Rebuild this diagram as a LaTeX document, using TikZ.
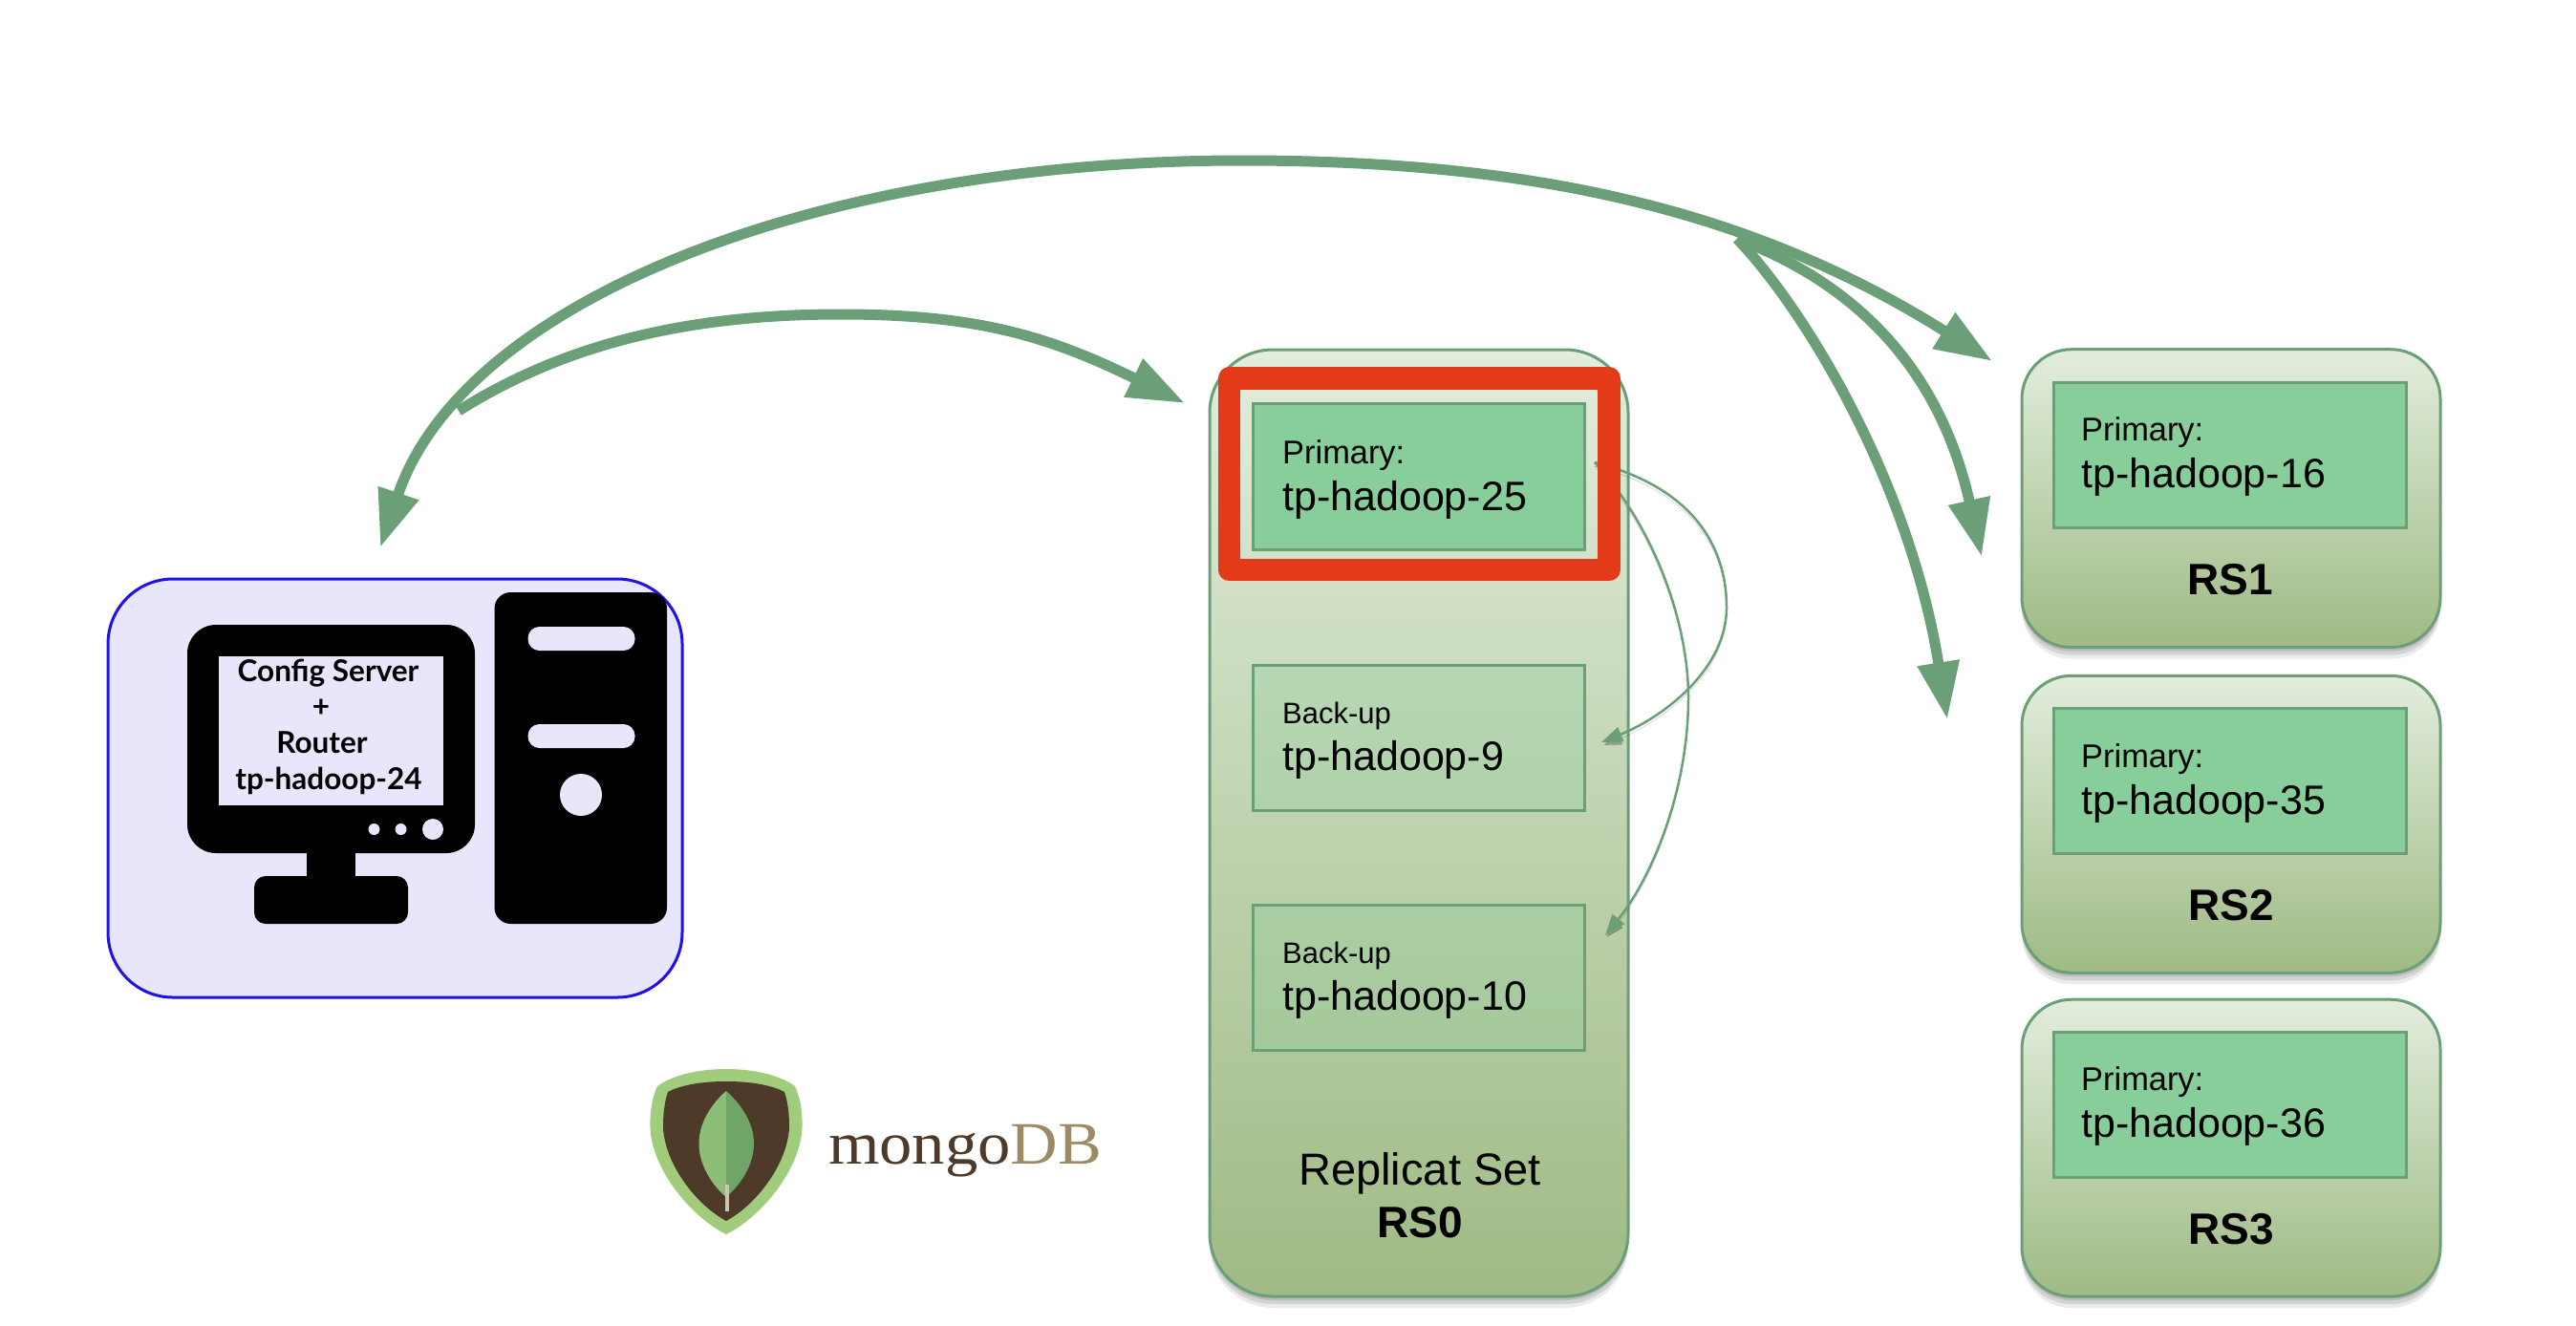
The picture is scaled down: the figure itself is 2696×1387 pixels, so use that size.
\documentclass[tikz,border=0pt]{standalone}
\usepackage{fontspec}
\setsansfont{Liberation Sans}
\newfontfamily\cfgfont{Lato}
\newfontfamily\logofont{Liberation Serif}
\usepackage{xcolor}
\usetikzlibrary{calc,arrows.meta,shadows}
\definecolor{edgegreen}{HTML}{6A9F78}
\definecolor{rstop}{HTML}{E2EDDC}
\definecolor{rsmid}{HTML}{B9D0A8}
\definecolor{rsbottom}{HTML}{9FBA84}
\definecolor{prifill}{HTML}{88CE9A}
\definecolor{redframe}{HTML}{E33B1A}
\definecolor{hostfill}{HTML}{E8E6FB}
\definecolor{hostedge}{HTML}{1F10EE}
\definecolor{shieldgreen}{HTML}{A0CC7C}
\definecolor{mongobrown}{HTML}{4E3A28}
\definecolor{mongotan}{HTML}{9C8A63}
\definecolor{leaflight}{HTML}{8DBE78}
\definecolor{leafdark}{HTML}{6FA566}
\definecolor{stemgrey}{HTML}{CBC4B0}
\tikzset{
  softshade/.style={
    drop shadow={shadow xshift=0pt,shadow yshift=-4pt,opacity=.10,fill=black},
    drop shadow={shadow xshift=0pt,shadow yshift=-8pt,opacity=.10,fill=black},
    drop shadow={shadow xshift=0pt,shadow yshift=-12pt,opacity=.08,fill=black}},
  softline/.style={preaction={draw=black,opacity=.25,transform canvas={yshift=-4pt}}},
  rsbox/.style={draw=edgegreen, line width=3pt, top color=rstop, middle color=rsmid, bottom color=rsbottom,
    minimum width=438pt, inner sep=0pt, softshade},
  pribox/.style={draw=edgegreen, line width=3pt, fill=prifill, inner sep=0pt},
  bakbox/.style={draw=edgegreen, line width=3pt, fill=prifill, fill opacity=.3, inner sep=0pt},
  lab/.style={inner sep=0pt, anchor=base west, font=\sffamily\fontsize{34.4}{38}\selectfont},
  labup/.style={inner sep=0pt, anchor=base west, font=\sffamily\fontsize{31}{36}\selectfont},
  labhost/.style={inner sep=0pt, anchor=base west, font=\sffamily\fontsize{43}{48}\selectfont},
  labrs/.style={inner sep=0pt, anchor=base, font=\sffamily\bfseries\fontsize{46}{50}\selectfont},
  labcfg/.style={inner sep=0pt, anchor=base, font=\cfgfont\bfseries\fontsize{31.5}{34}\selectfont},
  bigarrow/.style={draw=edgegreen, line width=11pt, softline},
  smallarrow/.style={draw=edgegreen, line width=2.5pt, softline,
    -{Triangle[length=22pt,width=16pt]}},
  bighead/.style={-{Triangle[length=60pt,width=42pt]}}
}
\begin{document}
\begin{tikzpicture}[x=1pt,y=-1pt]
  \useasboundingbox[fill=white] (0,0) rectangle (2696,1387);

  % host with monitor and tower
  \node[draw=hostedge, line width=3pt, fill=hostfill, rounded corners=68pt, minimum width=601pt, minimum height=438pt, inner sep=0pt] (hostbox) at (413.5,825) {};
  \fill[black, rounded corners=30pt] (196,654) rectangle (497,893);
  \fill[black] (321,885) rectangle (372,925);
  \fill[black, rounded corners=12pt] (266,917) rectangle (427,967);
  \fill[black, rounded corners=17pt] (517.5,620) rectangle (698,967);
  \fill[hostfill] (229,687) rectangle (463.5,843);
  \fill[hostfill, rounded corners=12pt] (552.5,656) rectangle (664.5,681);
  \fill[hostfill, rounded corners=12pt] (552.5,758) rectangle (664.5,783);
  \fill[hostfill] (608,832) circle (22);
  \fill[hostfill] (391.5,868) circle (6);
  \fill[hostfill] (419.5,868) circle (6);
  \fill[hostfill] (453,868) circle (11);
  \node[labcfg] (cfgname) at (343.5,713) {Config Server};
  \node[labcfg] (cfgplus) at (336,750) {+};
  \node[labcfg] (cfgrouter) at (337,788) {Router};
  \node[labcfg] (cfghost) at (344,826) {tp-hadoop-24};

  % replica set RS0
  \node[rsbox, rounded corners=66pt, minimum height=991pt] (rszero) at (1485,861.5) {};
  \node[pribox, minimum width=347pt, minimum height=153pt] (prizero) at (1485,499) {};
  \node[bakbox, minimum width=347pt, minimum height=152pt] (bakone) at (1485,772) {};
  \node[bakbox, minimum width=347pt, minimum height=152pt] (baktwo) at (1485,1023) {};
  \node[lab] (prizerotxt) at (1342,485) {Primary:};
  \node[labhost] (prizerohost) at (1342,534) {tp-hadoop-25};
  \node[labup] (bakonetxt) at (1342,757) {Back-up};
  \node[labhost] (bakonehost) at (1342,806) {tp-hadoop-9};
  \node[labup] (baktwotxt) at (1342,1008) {Back-up};
  \node[labhost] (baktwohost) at (1342,1057) {tp-hadoop-10};
  \node[inner sep=0pt, anchor=base, font=\sffamily\fontsize{47}{52}\selectfont] (rszerotxt) at (1486,1240) {Replicat Set};
  \node[labrs] (rszeroname) at (1486,1295) {RS0};

  % replication inside RS0
  \coordinate (repstart) at (1669,484);
  \coordinate (reptipone) at (1676,777);
  \coordinate (reptiptwo) at (1680,979);
  \draw[smallarrow] (repstart) .. controls (1770,510) and (1807,570) .. (1807,636)
    .. controls (1807,700) and (1742,750) .. (reptipone);
  \draw[smallarrow] (repstart) .. controls (1730,550) and (1767,650) .. (1767,730)
    .. controls (1767,830) and (1727,921) .. (reptiptwo);

  % red frame round the primary
  \draw[redframe, line width=23.5pt, line join=round] (1286.5,396) rectangle (1684,596.5);

  % shards RS1 to RS3
  \node[rsbox, rounded corners=52pt, minimum height=312pt] (rsone) at (2335,521.7) {};
  \node[pribox, minimum width=369pt, minimum height=152pt] (prione) at (2333.5,476) {};
  \node[lab] (prionetxt) at (2178,461) {Primary:};
  \node[labhost] (prionehost) at (2178,510) {tp-hadoop-16};
  \node[labrs] (rsonename) at (2334,622) {RS1};

  \node[rsbox, rounded corners=52pt, minimum height=311pt] (rstwo) at (2335,862.8) {};
  \node[pribox, minimum width=369pt, minimum height=152pt] (pritwo) at (2333.5,817) {};
  \node[lab] (pritwotxt) at (2178,803) {Primary:};
  \node[labhost] (pritwohost) at (2178,852) {tp-hadoop-35};
  \node[labrs] (rstwoname) at (2335.5,963) {RS2};

  \node[rsbox, rounded corners=52pt, minimum height=311pt] (rsthree) at (2335,1201.7) {};
  \node[pribox, minimum width=369pt, minimum height=152pt] (prithree) at (2333.5,1156) {};
  \node[lab] (prithreetxt) at (2178,1141) {Primary:};
  \node[labhost] (prithreehost) at (2178,1190) {tp-hadoop-36};
  \node[labrs] (rsthreename) at (2335.5,1302) {RS3};

  % router to shards
  \coordinate (hosttip) at (398,573);
  \coordinate (leftfork) at (480,430);
  \coordinate (rightfork) at (1818,250);
  \coordinate (tipzero) at (1240,422);
  \coordinate (tipone) at (2085,378);
  \coordinate (tiptwo) at (2074,582.5);
  \coordinate (tipthree) at (2038,753);
  \draw[bigarrow, {Triangle[length=60pt,width=42pt]}-{Triangle[length=60pt,width=42pt]}] (hosttip)
    .. controls (484,317) and (850,168) .. (1300,168)
    .. controls (1600,168) and (1831,218) .. (tipone);
  \draw[bigarrow, bighead] (leftfork)
    .. controls (591,360) and (720,329) .. (880,329)
    .. controls (1020,329) and (1096,351) .. (tipzero);
  \draw[bigarrow, bighead] (rightfork) .. controls (1910,285) and (2024,358) .. (tiptwo);
  \draw[bigarrow, bighead] (rightfork) .. controls (1890,325) and (1999,506) .. (tipthree);

  % mongoDB logo
  \fill[shieldgreen] (760,1119) .. controls (725,1119) and (700,1128) .. (688,1137)
    .. controls (682,1150) and (680,1165) .. (680.5,1180)
    .. controls (682,1225) and (725,1275) .. (760,1292)
    .. controls (795,1275) and (838,1225) .. (839.5,1180)
    .. controls (840,1165) and (838,1150) .. (832,1137)
    .. controls (820,1128) and (795,1119) .. (760,1119) -- cycle;
  \fill[mongobrown] (760,1132) .. controls (730,1132) and (710,1137) .. (699,1143)
    .. controls (695,1155) and (694,1168) .. (694,1180)
    .. controls (696,1220) and (730,1262) .. (760,1278)
    .. controls (790,1262) and (824,1220) .. (826,1180)
    .. controls (826,1168) and (825,1155) .. (821,1143)
    .. controls (810,1137) and (790,1132) .. (760,1132) -- cycle;
  \fill[leaflight] (760,1142) .. controls (745,1155) and (731.5,1175) .. (731.5,1197)
    .. controls (731.5,1222) and (748,1243) .. (760,1253) -- cycle;
  \fill[leafdark] (760,1142) .. controls (775,1155) and (789,1175) .. (789,1197)
    .. controls (789,1222) and (772,1243) .. (760,1253) -- cycle;
  \draw[stemgrey, line width=3.5pt] (761,1240) -- (761,1268);
  \node[xscale=1.09, transform shape, inner sep=0pt, anchor=base west, font=\logofont\fontsize{63}{70}\selectfont] (mongoname) at (867,1218)
    {\textcolor{mongobrown}{mongo}\textcolor{mongotan}{DB}};
\end{tikzpicture}
\end{document}
